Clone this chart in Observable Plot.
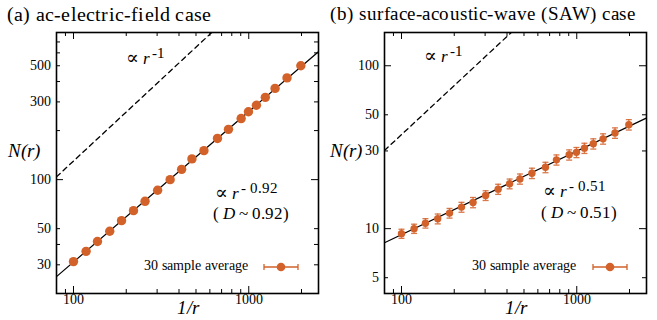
<!DOCTYPE html>
<html><head><meta charset="utf-8">
<script src="https://cdn.jsdelivr.net/npm/d3@7"></script>
<script src="https://cdn.jsdelivr.net/npm/@observablehq/plot@0.6"></script>
<style>
@font-face{font-family:"RefSerif";font-style:normal;font-weight:400;src:local("Liberation Serif"),local("LiberationSerif"),local("LiberationSerif-Regular"),local("DejaVu Serif"),local("DejaVuSerif"),local("Times New Roman"),local("Tinos")}
@font-face{font-family:"RefSerif";font-style:italic;font-weight:400;src:local("Liberation Serif Italic"),local("LiberationSerif-Italic"),local("DejaVu Serif Italic"),local("DejaVuSerif-Italic"),local("Times New Roman Italic"),local("Tinos Italic")}
body{margin:0;background:#fff}
#wrap{position:relative;width:657px;height:320px;font-family:"RefSerif","Liberation Serif","DejaVu Serif",serif;color:#000}
.t{position:absolute;white-space:nowrap;line-height:1}
.i{font-style:italic}
.sup{position:relative;top:-6px;font-size:15px;margin-left:2px}
</style></head>
<body>
<div id="wrap">
  <div id="pa" style="position:absolute;left:0;top:0"></div>
  <div id="pb" style="position:absolute;left:328px;top:0"></div>
  <div class="t" style="left:7px;top:4px;font-size:20px;letter-spacing:0.2px">(a) ac-electric-field case</div>
  <div class="t" style="left:330px;top:4px;font-size:19px;letter-spacing:0.5px">(b) surface-acoustic-wave (SAW) case</div>
  <div class="t i" style="left:8px;top:141px;font-size:19px">N(r)</div>
  <div class="t i" style="left:330px;top:141px;font-size:19px">N(r)</div>
  <div class="t i" style="left:177px;top:298px;font-size:19px">1/r</div>
  <div class="t i" style="left:505px;top:298px;font-size:19px">1/r</div>
  <div class="t" style="left:126px;top:48px;font-size:17px"><span style="font-size:19px">∝</span> <span class="i">r</span><span class="sup">-1</span></div>
  <div class="t" style="left:424px;top:46px;font-size:17px"><span style="font-size:19px">∝</span> <span class="i">r</span><span class="sup">-1</span></div>
  <div class="t" style="left:215px;top:183px;font-size:17px"><span style="font-size:19px">∝</span> <span class="i">r</span><span class="sup">- 0.92</span></div>
  <div class="t" style="left:543px;top:181px;font-size:17px"><span style="font-size:19px">∝</span> <span class="i">r</span><span class="sup">- 0.51</span></div>
  <div class="t" style="left:213px;top:205px;font-size:17px">( <span class="i">D</span> ~ 0.92)</div>
  <div class="t" style="left:541px;top:204px;font-size:17px">( <span class="i">D</span> ~ 0.51)</div>
  <div class="t" style="left:144px;top:259px;font-size:14px">30 sample average</div>
  <div class="t" style="left:472px;top:259px;font-size:14px">30 sample average</div>
  <svg class="t" style="left:262px;top:260px" width="40" height="14"><g stroke="#d2622a" stroke-width="1.3"><line x1="2" y1="7" x2="36" y2="7"/><line x1="2" y1="4" x2="2" y2="10"/><line x1="36" y1="4" x2="36" y2="10"/></g><circle cx="19" cy="7" r="4.3" fill="#d2622a"/></svg>
  <svg class="t" style="left:591px;top:260px" width="40" height="14"><g stroke="#d2622a" stroke-width="1.3"><line x1="2" y1="7" x2="36" y2="7"/><line x1="2" y1="4" x2="2" y2="10"/><line x1="36" y1="4" x2="36" y2="10"/></g><circle cx="19" cy="7" r="4.3" fill="#d2622a"/></svg>
</div>
<script>
// ---- data ----
const invR = [100, 118, 137, 161, 188, 220, 256, 302, 356, 414, 474, 555, 663, 766, 905, 996, 1106, 1243, 1413, 1653, 1982];
const nA = [31.4, 36.3, 41.7, 48.2, 56.0, 64.5, 73.6, 86.0, 100, 115.6, 134, 150.6, 179, 203.5, 237, 261, 286, 320, 363, 421, 500];
const errA = [0.5, 0.6, 0.6, 0.7, 0.8, 0.9, 1.0, 1.2, 1.4, 1.6, 1.8, 2.1, 2.5, 2.9, 3.3, 3.6, 4.0, 4.5, 5.1, 5.9, 7.0];
const nB = [9.32, 10.0, 10.8, 11.5, 12.46, 13.56, 14.49, 15.99, 17.48, 18.86, 20.2, 21.9, 23.8, 26.45, 28.4, 29.4, 31.2, 33.2, 35.6, 38.7, 43.5];
const errB = [0.6, 0.65, 0.72, 0.8, 0.85, 0.95, 1.05, 1.1, 1.25, 1.3, 1.45, 1.6, 1.75, 1.9, 2.05, 2.1, 2.25, 2.4, 2.6, 2.85, 3.2];
// fit lines (endpoints)
const fitX = [80, 2500];
const fitA = [25.4, 610];
const fitB = [8.2, 47.8];
// r^-1 guide lines
const guideAX = [80, 615], guideAY = [104, 800];
const guideBX = [80, 423], guideBY = [30.2, 160];
// ticks
const xMajor = [100, 1000];
const xMinor = [90, 200, 300, 400, 500, 600, 700, 800, 900, 2000];
const yMajorA = [100];
const yMinorA = [30, 40, 50, 200, 300, 400, 500, 600, 700];
const yLabelsA = [30, 50, 100, 300, 500];
const yMajorB = [10, 100];
const yMinorB = [5, 30, 50];
const yLabelsB = [5, 10, 30, 50, 100];

const ORANGE = "#d2622a";
const FONT = "RefSerif, Liberation Serif, DejaVu Serif, serif";
const capSym = {draw(ctx, size){ const w = Math.sqrt(size) / 2; ctx.moveTo(-w, 0); ctx.lineTo(w, 0); }};
const FW = 262, FH = 261; // frame size in px

function xTicks(values, size){
  return [
    Plot.tickX(values, {x: d => d, insetTop: FH - size, stroke: "#000", strokeWidth: 1}),
    Plot.tickX(values, {x: d => d, insetBottom: FH - size, stroke: "#000", strokeWidth: 1})
  ];
}
function yTicks(values, size){
  return [
    Plot.tickY(values, {y: d => d, insetRight: FW - size, stroke: "#000", strokeWidth: 1}),
    Plot.tickY(values, {y: d => d, insetLeft: FW - size, stroke: "#000", strokeWidth: 1})
  ];
}

function panel(n, err, fitY, gX, gY, yDomain, yMaj, yMin, yLab, width, dotR, showErr){
  const pts = invR.map((x, i) => ({x, y: n[i], lo: n[i] - err[i], hi: n[i] + err[i]}));
  const fit = fitX.map((x, i) => ({x, y: fitY[i]}));
  const guide = gX.map((x, i) => ({x, y: gY[i]}));
  return Plot.plot({
    width, height: 320,
    marginLeft: 56, marginRight: width - 56 - FW, marginTop: 32, marginBottom: 320 - 32 - FH,
    x: {type: "log", domain: [80, 2500], axis: null},
    y: {type: "log", domain: yDomain, axis: null},
    style: {fontFamily: FONT, fontSize: "14px", background: "transparent", color: "#000"},
    marks: [
      Plot.line(guide, {x: "x", y: "y", stroke: "#000", strokeWidth: 1.3, strokeDasharray: "5,4", clip: true}),
      Plot.line(fit, {x: "x", y: "y", stroke: "#000", strokeWidth: 1.2, clip: true}),
      ...(showErr ? [
        Plot.ruleX(pts, {x: "x", y1: "lo", y2: "hi", stroke: ORANGE, strokeWidth: 1.3, strokeOpacity: 0.85}),
        Plot.dot(pts, {x: "x", y: "lo", symbol: capSym, r: 3.4, stroke: ORANGE, strokeWidth: 1.3, strokeOpacity: 0.85}),
        Plot.dot(pts, {x: "x", y: "hi", symbol: capSym, r: 3.4, stroke: ORANGE, strokeWidth: 1.3, strokeOpacity: 0.85})
      ] : []),
      Plot.dot(pts, {x: "x", y: "y", r: dotR, fill: ORANGE, stroke: "none"}),
      ...xTicks(xMajor, 7), ...xTicks(xMinor, 4),
      ...yTicks(yMaj, 7), ...yTicks(yMin, 4),
      Plot.text(xMajor, {x: d => d, text: d => String(d), frameAnchor: "bottom", dy: 10, fontSize: 14, fontFamily: FONT}),
      Plot.text(yLab, {y: d => d, text: d => String(d), frameAnchor: "left", dx: -6, textAnchor: "end", fontSize: 14, fontFamily: FONT}),
      Plot.frame({stroke: "#000", strokeWidth: 1.6})
    ]
  });
}

document.getElementById("pa").append(panel(nA, errA, fitA, guideAX, guideAY, [20, 800], yMajorA, yMinorA, yLabelsA, 328, 4.7, false));
document.getElementById("pb").append(panel(nB, errB, fitB, guideBX, guideBY, [4, 160], yMajorB, yMinorB, yLabelsB, 329, 3.7, true));
</script>
</body></html>
